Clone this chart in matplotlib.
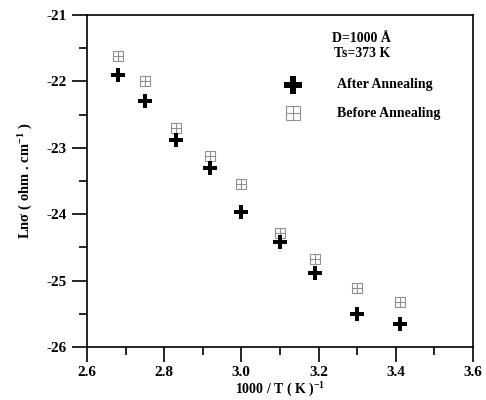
import numpy as np
import matplotlib.pyplot as plt

# data
x_after = [2.68, 2.75, 2.83, 2.92, 3.00, 3.10, 3.19, 3.30, 3.41]
y_after = [-21.91, -22.30, -22.89, -23.30, -23.97, -24.42, -24.89, -25.51, -25.65]
x_before = [2.68, 2.75, 2.83, 2.92, 3.00, 3.10, 3.19, 3.30, 3.41]
y_before = [-21.62, -21.99, -22.70, -23.12, -23.54, -24.28, -24.67, -25.11, -25.32]

plt.rcParams['font.family'] = ['Liberation Serif', 'DejaVu Serif']
plt.rcParams['font.weight'] = 'bold'
plt.rcParams['mathtext.fontset'] = 'custom'
plt.rcParams['mathtext.rm'] = 'Liberation Serif:bold'
plt.rcParams['mathtext.it'] = 'Liberation Serif:bold'
plt.rcParams['mathtext.bf'] = 'Liberation Serif:bold'

fig = plt.figure(figsize=(4.86, 4.0), dpi=100)
ax = fig.add_axes([0.179, 0.1325, 0.794, 0.83])

# before annealing: light open square with a cross inside
ax.plot(x_before, y_before, ls='none', marker='s', ms=7, mfc='none', mec='#909090', mew=0.8)
ax.plot(x_before, y_before, ls='none', marker='+', ms=7, mec='#909090', mew=0.8)
# after annealing: heavy plus
ax.plot(x_after, y_after, ls='none', marker='P', ms=10, mfc='black', mec='black', mew=0)

ax.set_xlim(2.6, 3.6)
ax.set_ylim(-26, -21)
ax.set_xticks(np.arange(2.6, 3.61, 0.2))
ax.set_xticks(np.arange(2.7, 3.6, 0.2), minor=True)
ax.set_yticks(np.arange(-26, -20.9, 1))
ax.set_yticks(np.arange(-25.5, -21, 1), minor=True)
ax.set_xticklabels(['2.6', '2.8', '3.0', '3.2', '3.4', '3.6'])
ax.set_yticklabels(['-26', '-25', '-24', '-23', '-22', '-21'])
ax.tick_params(which='major', direction='out', length=11, width=1.2, labelsize=11)
ax.tick_params(axis='x', which='major', pad=3)
ax.tick_params(which='minor', direction='out', length=6, width=1.2)
for s in ax.spines.values():
    s.set_linewidth(1.2)

ax.set_xlabel(r'1000 / T ( K )$^{-1}$', fontsize=10, fontweight='bold', labelpad=1)
ax.set_ylabel('Lnσ ( ohm . cm$^{-1}$ )', fontsize=10.5, fontweight='bold', labelpad=8)

ax.text(3.312, -21.36, 'D=1000 Å', fontsize=10, fontweight='bold', ha='center', va='center')
ax.text(3.312, -21.58, 'Ts=373 K', fontsize=10, fontweight='bold', ha='center', va='center')

# legend drawn by hand
ax.plot([3.134], [-22.05], ls='none', marker='P', ms=13, mfc='black', mec='black', mew=0)
ax.plot([3.134], [-22.48], ls='none', marker='s', ms=10, mfc='none', mec='#909090', mew=0.8)
ax.plot([3.134], [-22.48], ls='none', marker='+', ms=10, mec='#909090', mew=0.8)
ax.text(3.248, -22.05, 'After Annealing', fontsize=10, fontweight='bold', va='center')
ax.text(3.248, -22.48, 'Before Annealing', fontsize=10, fontweight='bold', va='center')

fig.savefig('out.png', dpi=100)
